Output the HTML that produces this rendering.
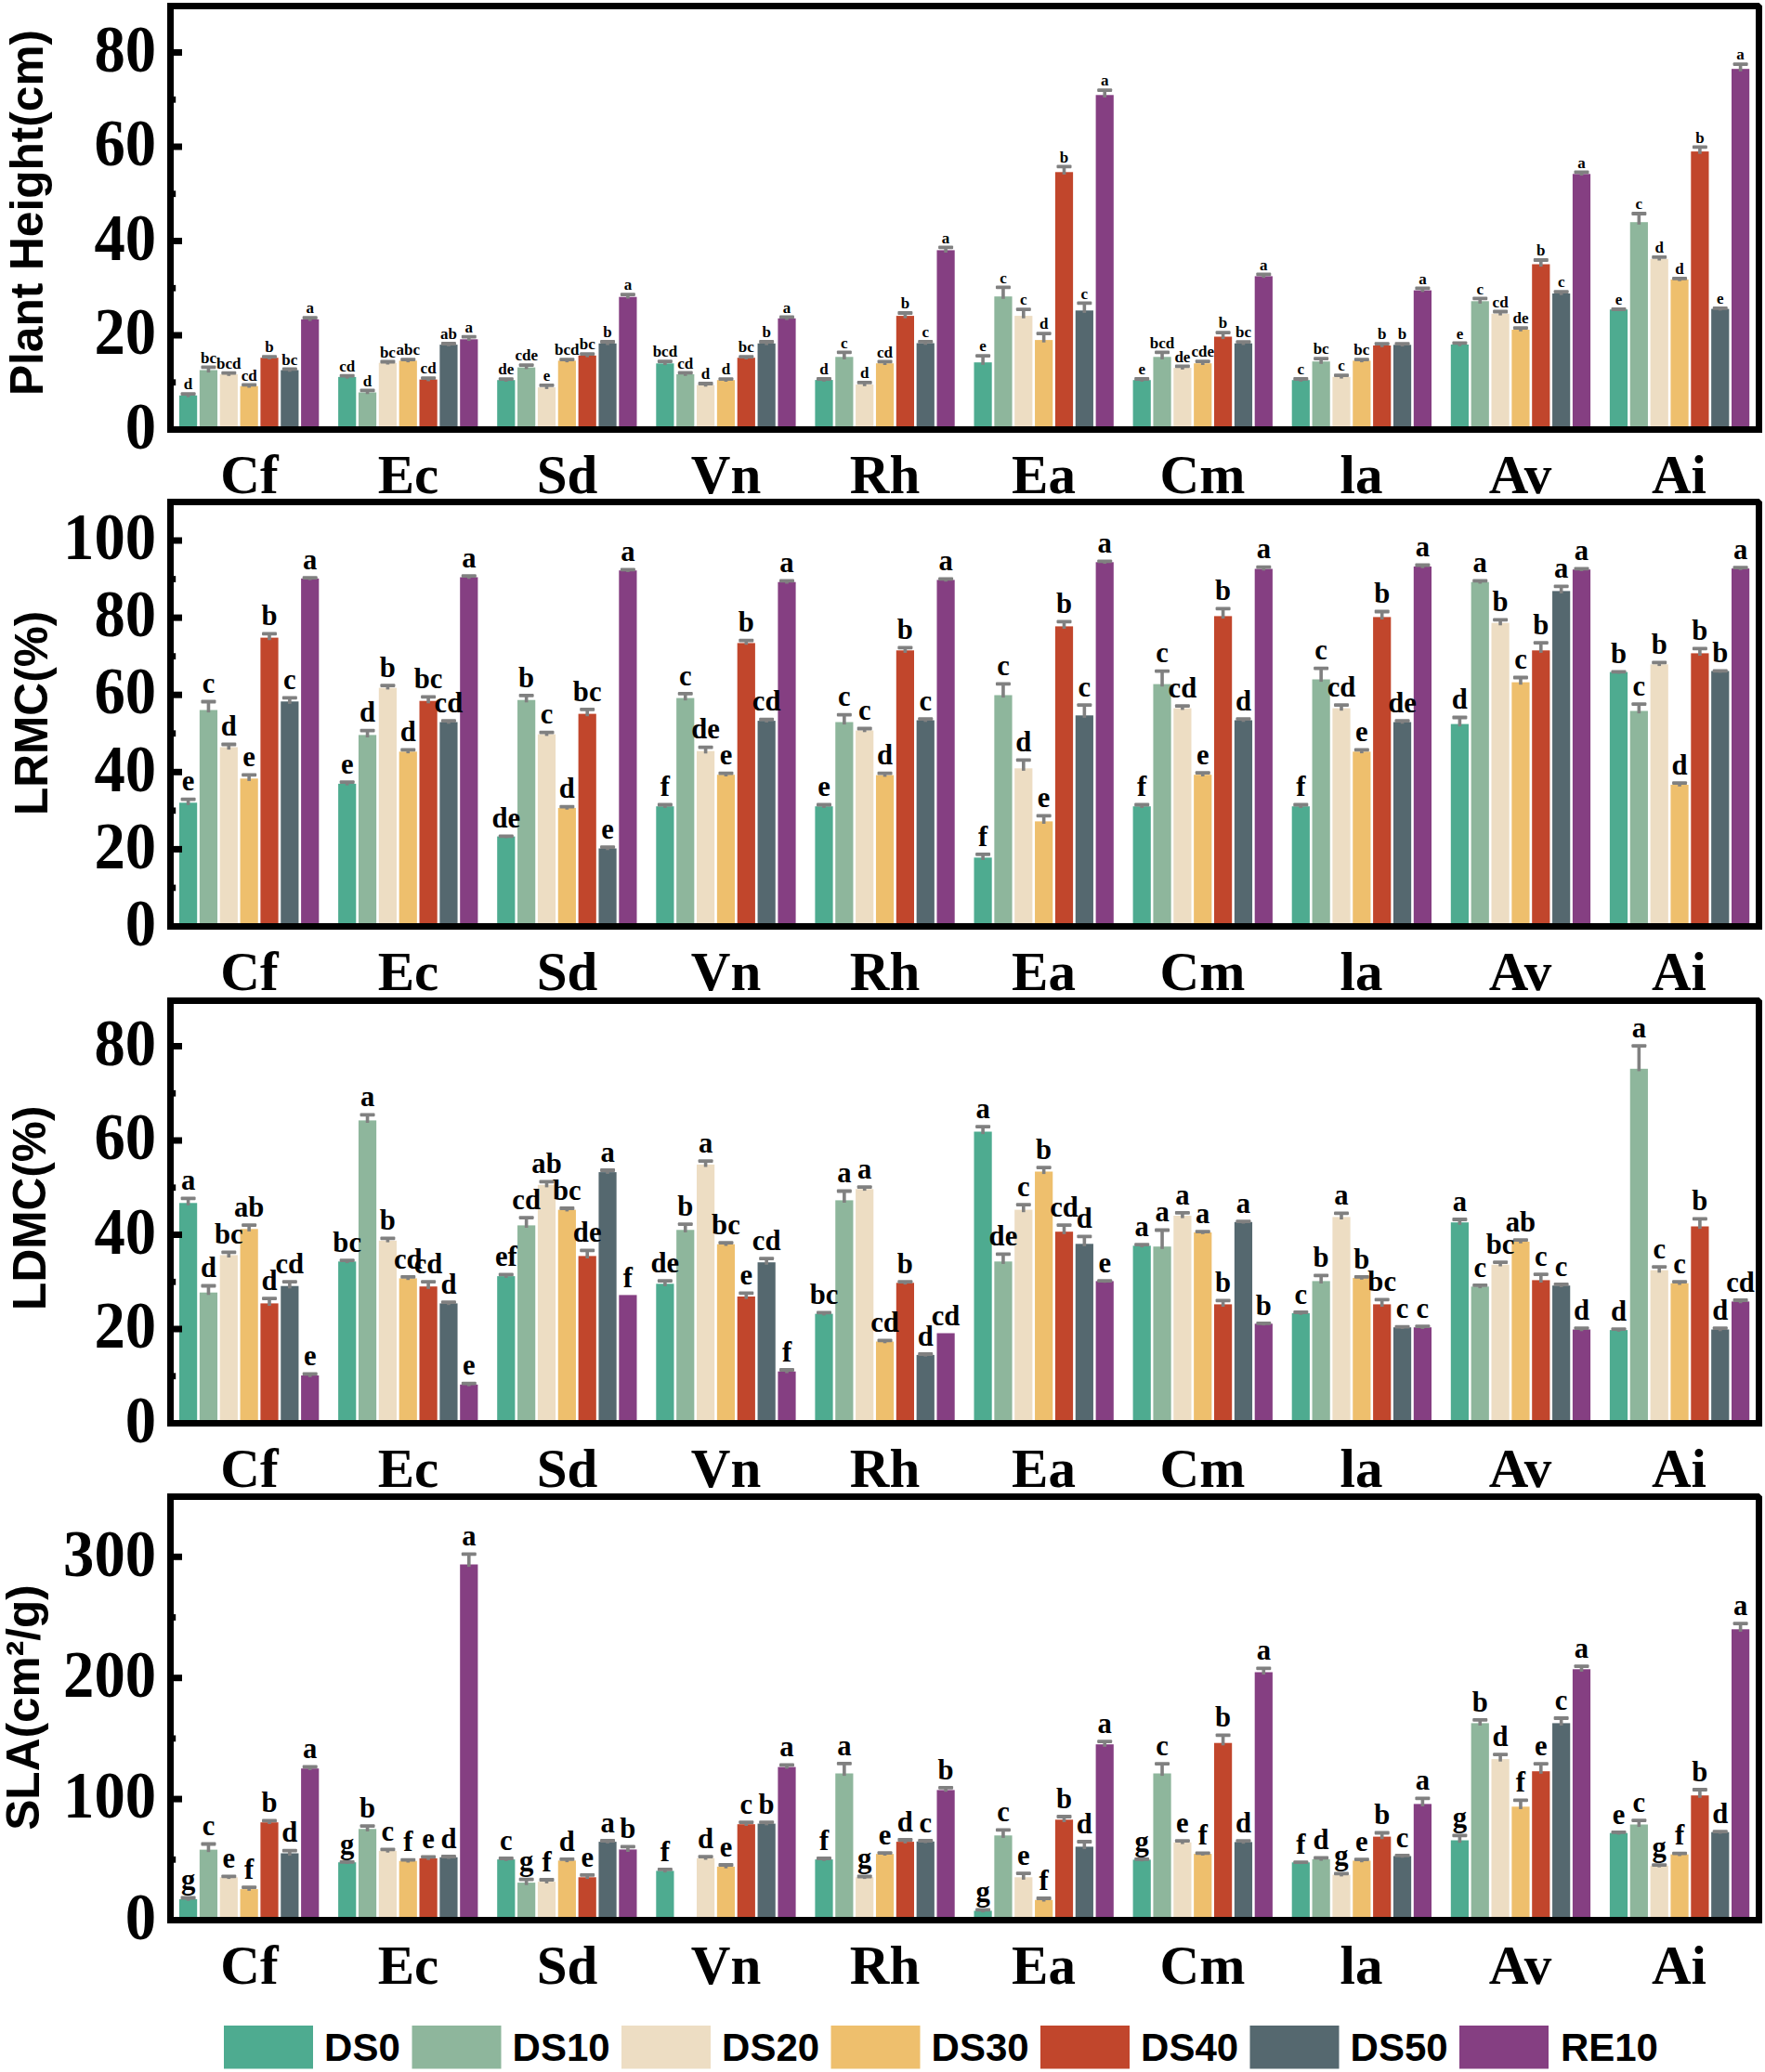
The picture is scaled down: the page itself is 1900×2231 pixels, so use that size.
<!DOCTYPE html>
<html lang="en"><head><meta charset="utf-8"><title>Plant traits under drought stress</title>
<style>html,body{margin:0;padding:0;background:#fff}body{width:1900px;height:2231px;overflow:hidden}svg{display:block}</style>
</head><body>
<svg width="1900" height="2231" viewBox="0 0 1900 2231">
<rect width="1900" height="2231" fill="#fff"/>
<g shape-rendering="auto"><rect x="193" y="425.8" width="19.2" height="36.7" fill="#4EAB90"/><rect x="214.85" y="398.5" width="19.2" height="64" fill="#8EB69C"/><rect x="236.7" y="403" width="19.2" height="59.5" fill="#EDDDC3"/><rect x="258.55" y="415.7" width="19.2" height="46.8" fill="#EEBF6D"/><rect x="280.4" y="385.2" width="19.2" height="77.3" fill="#C1462C"/><rect x="302.25" y="398.5" width="19.2" height="64" fill="#55686F"/><rect x="324.1" y="343.8" width="19.2" height="118.7" fill="#853F82"/><rect x="364.1" y="405.9" width="19.2" height="56.6" fill="#4EAB90"/><rect x="385.95" y="422.5" width="19.2" height="40" fill="#8EB69C"/><rect x="407.8" y="390.7" width="19.2" height="71.8" fill="#EDDDC3"/><rect x="429.65" y="388.3" width="19.2" height="74.2" fill="#EEBF6D"/><rect x="451.5" y="408.6" width="19.2" height="53.9" fill="#C1462C"/><rect x="473.35" y="371.1" width="19.2" height="91.4" fill="#55686F"/><rect x="495.2" y="365.3" width="19.2" height="97.2" fill="#853F82"/><rect x="535.2" y="409.2" width="19.2" height="53.3" fill="#4EAB90"/><rect x="557.05" y="395.6" width="19.2" height="66.9" fill="#8EB69C"/><rect x="578.9" y="417.1" width="19.2" height="45.4" fill="#EDDDC3"/><rect x="600.75" y="388.3" width="19.2" height="74.2" fill="#EEBF6D"/><rect x="622.6" y="382.8" width="19.2" height="79.7" fill="#C1462C"/><rect x="644.45" y="369.8" width="19.2" height="92.7" fill="#55686F"/><rect x="666.3" y="319.7" width="19.2" height="142.8" fill="#853F82"/><rect x="706.3" y="391.3" width="19.2" height="71.2" fill="#4EAB90"/><rect x="728.15" y="403" width="19.2" height="59.5" fill="#8EB69C"/><rect x="750" y="414.5" width="19.2" height="48" fill="#EDDDC3"/><rect x="771.85" y="409.2" width="19.2" height="53.3" fill="#EEBF6D"/><rect x="793.7" y="385.2" width="19.2" height="77.3" fill="#C1462C"/><rect x="815.55" y="369.8" width="19.2" height="92.7" fill="#55686F"/><rect x="837.4" y="342.8" width="19.2" height="119.7" fill="#853F82"/><rect x="877.4" y="409.1" width="19.2" height="53.4" fill="#4EAB90"/><rect x="899.25" y="384.3" width="19.2" height="78.2" fill="#8EB69C"/><rect x="921.1" y="414" width="19.2" height="48.5" fill="#EDDDC3"/><rect x="942.95" y="391.2" width="19.2" height="71.3" fill="#EEBF6D"/><rect x="964.8" y="340.1" width="19.2" height="122.4" fill="#C1462C"/><rect x="986.65" y="369.5" width="19.2" height="93" fill="#55686F"/><rect x="1008.5" y="269.4" width="19.2" height="193.1" fill="#853F82"/><rect x="1048.5" y="390.2" width="19.2" height="72.3" fill="#4EAB90"/><rect x="1070.35" y="319.2" width="19.2" height="143.3" fill="#8EB69C"/><rect x="1092.2" y="340.1" width="19.2" height="122.4" fill="#EDDDC3"/><rect x="1114.05" y="366.1" width="19.2" height="96.4" fill="#EEBF6D"/><rect x="1135.9" y="185.3" width="19.2" height="277.2" fill="#C1462C"/><rect x="1157.75" y="334.3" width="19.2" height="128.2" fill="#55686F"/><rect x="1179.6" y="102.3" width="19.2" height="360.2" fill="#853F82"/><rect x="1219.6" y="409.2" width="19.2" height="53.3" fill="#4EAB90"/><rect x="1241.45" y="384.3" width="19.2" height="78.2" fill="#8EB69C"/><rect x="1263.3" y="396.1" width="19.2" height="66.4" fill="#EDDDC3"/><rect x="1285.15" y="391.2" width="19.2" height="71.3" fill="#EEBF6D"/><rect x="1307" y="362.5" width="19.2" height="100" fill="#C1462C"/><rect x="1328.85" y="369.7" width="19.2" height="92.8" fill="#55686F"/><rect x="1350.7" y="297.4" width="19.2" height="165.1" fill="#853F82"/><rect x="1390.7" y="409.2" width="19.2" height="53.3" fill="#4EAB90"/><rect x="1412.55" y="389.2" width="19.2" height="73.3" fill="#8EB69C"/><rect x="1434.4" y="405.8" width="19.2" height="56.7" fill="#EDDDC3"/><rect x="1456.25" y="388.3" width="19.2" height="74.2" fill="#EEBF6D"/><rect x="1478.1" y="372" width="19.2" height="90.5" fill="#C1462C"/><rect x="1499.95" y="371.3" width="19.2" height="91.2" fill="#55686F"/><rect x="1521.8" y="312.6" width="19.2" height="149.9" fill="#853F82"/><rect x="1561.8" y="371" width="19.2" height="91.5" fill="#4EAB90"/><rect x="1583.65" y="324.3" width="19.2" height="138.2" fill="#8EB69C"/><rect x="1605.5" y="337.8" width="19.2" height="124.7" fill="#EDDDC3"/><rect x="1627.35" y="355" width="19.2" height="107.5" fill="#EEBF6D"/><rect x="1649.2" y="284.5" width="19.2" height="178" fill="#C1462C"/><rect x="1671.05" y="316" width="19.2" height="146.5" fill="#55686F"/><rect x="1692.9" y="187.3" width="19.2" height="275.2" fill="#853F82"/><rect x="1732.9" y="333.2" width="19.2" height="129.3" fill="#4EAB90"/><rect x="1754.75" y="239.2" width="19.2" height="223.3" fill="#8EB69C"/><rect x="1776.6" y="278.7" width="19.2" height="183.8" fill="#EDDDC3"/><rect x="1798.45" y="300.9" width="19.2" height="161.6" fill="#EEBF6D"/><rect x="1820.3" y="163.1" width="19.2" height="299.4" fill="#C1462C"/><rect x="1842.15" y="332.6" width="19.2" height="129.9" fill="#55686F"/><rect x="1864" y="74.2" width="19.2" height="388.3" fill="#853F82"/></g>
<g fill="#808080"><rect x="200.8" y="423.3" width="3.6" height="4.3"/><rect x="194.6" y="422.2" width="16" height="3.8" rx="1"/><rect x="222.65" y="394.6" width="3.6" height="6.5"/><rect x="216.45" y="393.5" width="16" height="3.8" rx="1"/><rect x="244.5" y="400.8" width="3.6" height="4"/><rect x="238.3" y="399.7" width="16" height="3.8" rx="1"/><rect x="266.35" y="413.5" width="3.6" height="4"/><rect x="260.15" y="412.4" width="16" height="3.8" rx="1"/><rect x="288.2" y="383.3" width="3.6" height="3.7"/><rect x="282" y="382.2" width="16" height="3.8" rx="1"/><rect x="310.05" y="396.5" width="3.6" height="3.8"/><rect x="303.85" y="395.4" width="16" height="3.8" rx="1"/><rect x="331.9" y="341.4" width="3.6" height="4.2"/><rect x="325.7" y="340.3" width="16" height="3.8" rx="1"/><rect x="371.9" y="403.8" width="3.6" height="3.9"/><rect x="365.7" y="402.7" width="16" height="3.8" rx="1"/><rect x="393.75" y="419.6" width="3.6" height="4.7"/><rect x="387.55" y="418.5" width="16" height="3.8" rx="1"/><rect x="415.6" y="388.7" width="3.6" height="3.8"/><rect x="409.4" y="387.6" width="16" height="3.8" rx="1"/><rect x="437.45" y="386.4" width="3.6" height="3.7"/><rect x="431.25" y="385.3" width="16" height="3.8" rx="1"/><rect x="459.3" y="406.3" width="3.6" height="4.1"/><rect x="453.1" y="405.2" width="16" height="3.8" rx="1"/><rect x="481.15" y="369.2" width="3.6" height="3.7"/><rect x="474.95" y="368.1" width="16" height="3.8" rx="1"/><rect x="503" y="361.8" width="3.6" height="5.3"/><rect x="496.8" y="360.7" width="16" height="3.8" rx="1"/><rect x="543" y="407.3" width="3.6" height="3.7"/><rect x="536.8" y="406.2" width="16" height="3.8" rx="1"/><rect x="564.85" y="392.3" width="3.6" height="5.1"/><rect x="558.65" y="391.2" width="16" height="3.8" rx="1"/><rect x="586.7" y="414.1" width="3.6" height="4.8"/><rect x="580.5" y="413" width="16" height="3.8" rx="1"/><rect x="608.55" y="386.4" width="3.6" height="3.7"/><rect x="602.35" y="385.3" width="16" height="3.8" rx="1"/><rect x="630.4" y="380.3" width="3.6" height="4.3"/><rect x="624.2" y="379.2" width="16" height="3.8" rx="1"/><rect x="652.25" y="367.2" width="3.6" height="4.4"/><rect x="646.05" y="366.1" width="16" height="3.8" rx="1"/><rect x="674.1" y="316.4" width="3.6" height="5.1"/><rect x="667.9" y="315.3" width="16" height="3.8" rx="1"/><rect x="714.1" y="388.3" width="3.6" height="4.8"/><rect x="707.9" y="387.2" width="16" height="3.8" rx="1"/><rect x="735.95" y="400.5" width="3.6" height="4.3"/><rect x="729.75" y="399.4" width="16" height="3.8" rx="1"/><rect x="757.8" y="412.2" width="3.6" height="4.1"/><rect x="751.6" y="411.1" width="16" height="3.8" rx="1"/><rect x="779.65" y="407.3" width="3.6" height="3.7"/><rect x="773.45" y="406.2" width="16" height="3.8" rx="1"/><rect x="801.5" y="383.3" width="3.6" height="3.7"/><rect x="795.3" y="382.2" width="16" height="3.8" rx="1"/><rect x="823.35" y="367.2" width="3.6" height="4.4"/><rect x="817.15" y="366.1" width="16" height="3.8" rx="1"/><rect x="845.2" y="340.5" width="3.6" height="4.1"/><rect x="839" y="339.4" width="16" height="3.8" rx="1"/><rect x="885.2" y="407.2" width="3.6" height="3.7"/><rect x="879" y="406.1" width="16" height="3.8" rx="1"/><rect x="907.05" y="378.5" width="3.6" height="8.4"/><rect x="900.85" y="377.4" width="16" height="3.8" rx="1"/><rect x="928.9" y="411.1" width="3.6" height="4.7"/><rect x="922.7" y="410" width="16" height="3.8" rx="1"/><rect x="950.75" y="388.6" width="3.6" height="4.4"/><rect x="944.55" y="387.5" width="16" height="3.8" rx="1"/><rect x="972.6" y="336.2" width="3.6" height="6.5"/><rect x="966.4" y="335.1" width="16" height="3.8" rx="1"/><rect x="994.45" y="367.1" width="3.6" height="4.2"/><rect x="988.25" y="366" width="16" height="3.8" rx="1"/><rect x="1016.3" y="265.5" width="3.6" height="6.5"/><rect x="1010.1" y="264.4" width="16" height="3.8" rx="1"/><rect x="1056.3" y="382.4" width="3.6" height="10.4"/><rect x="1050.1" y="381.3" width="16" height="3.8" rx="1"/><rect x="1078.15" y="308.5" width="3.6" height="13.3"/><rect x="1071.95" y="307.4" width="16" height="3.8" rx="1"/><rect x="1100" y="332.3" width="3.6" height="10.4"/><rect x="1093.8" y="331.2" width="16" height="3.8" rx="1"/><rect x="1121.85" y="358.3" width="3.6" height="10.4"/><rect x="1115.65" y="357.2" width="16" height="3.8" rx="1"/><rect x="1143.7" y="178.5" width="3.6" height="9.4"/><rect x="1137.5" y="177.4" width="16" height="3.8" rx="1"/><rect x="1165.55" y="325.5" width="3.6" height="11.4"/><rect x="1159.35" y="324.4" width="16" height="3.8" rx="1"/><rect x="1187.4" y="96.4" width="3.6" height="8.5"/><rect x="1181.2" y="95.3" width="16" height="3.8" rx="1"/><rect x="1227.4" y="407.2" width="3.6" height="3.8"/><rect x="1221.2" y="406.1" width="16" height="3.8" rx="1"/><rect x="1249.25" y="378.5" width="3.6" height="8.4"/><rect x="1243.05" y="377.4" width="16" height="3.8" rx="1"/><rect x="1271.1" y="393.6" width="3.6" height="4.3"/><rect x="1264.9" y="392.5" width="16" height="3.8" rx="1"/><rect x="1292.95" y="388.3" width="3.6" height="4.7"/><rect x="1286.75" y="387.2" width="16" height="3.8" rx="1"/><rect x="1314.8" y="357.4" width="3.6" height="7.7"/><rect x="1308.6" y="356.3" width="16" height="3.8" rx="1"/><rect x="1336.65" y="367.4" width="3.6" height="4.1"/><rect x="1330.45" y="366.3" width="16" height="3.8" rx="1"/><rect x="1358.5" y="294.5" width="3.6" height="4.7"/><rect x="1352.3" y="293.4" width="16" height="3.8" rx="1"/><rect x="1398.5" y="407.2" width="3.6" height="3.8"/><rect x="1392.3" y="406.1" width="16" height="3.8" rx="1"/><rect x="1420.35" y="385.3" width="3.6" height="6.5"/><rect x="1414.15" y="384.2" width="16" height="3.8" rx="1"/><rect x="1442.2" y="403.3" width="3.6" height="4.3"/><rect x="1436" y="402.2" width="16" height="3.8" rx="1"/><rect x="1464.05" y="386.3" width="3.6" height="3.8"/><rect x="1457.85" y="385.2" width="16" height="3.8" rx="1"/><rect x="1485.9" y="369.3" width="3.6" height="4.5"/><rect x="1479.7" y="368.2" width="16" height="3.8" rx="1"/><rect x="1507.75" y="369.3" width="3.6" height="3.8"/><rect x="1501.55" y="368.2" width="16" height="3.8" rx="1"/><rect x="1529.6" y="309.5" width="3.6" height="4.9"/><rect x="1523.4" y="308.4" width="16" height="3.8" rx="1"/><rect x="1569.6" y="368.5" width="3.6" height="4.3"/><rect x="1563.4" y="367.4" width="16" height="3.8" rx="1"/><rect x="1591.45" y="320.5" width="3.6" height="6.4"/><rect x="1585.25" y="319.4" width="16" height="3.8" rx="1"/><rect x="1613.3" y="334.7" width="3.6" height="4.9"/><rect x="1607.1" y="333.6" width="16" height="3.8" rx="1"/><rect x="1635.15" y="352.3" width="3.6" height="4.5"/><rect x="1628.95" y="351.2" width="16" height="3.8" rx="1"/><rect x="1657" y="279.2" width="3.6" height="7.9"/><rect x="1650.8" y="278.1" width="16" height="3.8" rx="1"/><rect x="1678.85" y="313.3" width="3.6" height="4.5"/><rect x="1672.65" y="312.2" width="16" height="3.8" rx="1"/><rect x="1700.7" y="184.6" width="3.6" height="4.5"/><rect x="1694.5" y="183.5" width="16" height="3.8" rx="1"/><rect x="1740.7" y="332.2" width="3.6" height="2.8"/><rect x="1734.5" y="331.1" width="16" height="3.8" rx="1"/><rect x="1762.55" y="229.2" width="3.6" height="12.6"/><rect x="1756.35" y="228.1" width="16" height="3.8" rx="1"/><rect x="1784.4" y="276.1" width="3.6" height="4.4"/><rect x="1778.2" y="275" width="16" height="3.8" rx="1"/><rect x="1806.25" y="299" width="3.6" height="3.7"/><rect x="1800.05" y="297.9" width="16" height="3.8" rx="1"/><rect x="1828.1" y="157.6" width="3.6" height="8.1"/><rect x="1821.9" y="156.5" width="16" height="3.8" rx="1"/><rect x="1849.95" y="331.1" width="3.6" height="3.3"/><rect x="1843.75" y="330" width="16" height="3.8" rx="1"/><rect x="1871.8" y="68.3" width="3.6" height="8.5"/><rect x="1865.6" y="67.2" width="16" height="3.8" rx="1"/></g>
<g font-family='"Liberation Serif","Times New Roman",serif' font-weight="bold" font-size="17" text-anchor="middle" fill="#000"><text x="202.6" y="419.3">d</text><text x="224.45" y="390.6">bc</text><text x="246.3" y="396.8">bcd</text><text x="268.15" y="409.5">cd</text><text x="290" y="379.3">b</text><text x="311.85" y="392.5">bc</text><text x="333.7" y="337.4">a</text><text x="373.7" y="399.8">cd</text><text x="395.55" y="415.6">d</text><text x="417.4" y="384.7">bc</text><text x="439.25" y="382.4">abc</text><text x="461.1" y="402.3">cd</text><text x="482.95" y="365.2">ab</text><text x="504.8" y="357.8">a</text><text x="544.8" y="403.3">de</text><text x="566.65" y="388.3">cde</text><text x="588.5" y="410.1">e</text><text x="610.35" y="382.4">bcd</text><text x="632.2" y="376.3">bc</text><text x="654.05" y="363.2">b</text><text x="675.9" y="312.4">a</text><text x="715.9" y="384.3">bcd</text><text x="737.75" y="396.5">cd</text><text x="759.6" y="408.2">d</text><text x="781.45" y="403.3">d</text><text x="803.3" y="379.3">bc</text><text x="825.15" y="363.2">b</text><text x="847" y="336.5">a</text><text x="887" y="403.2">d</text><text x="908.85" y="374.5">c</text><text x="930.7" y="407.1">d</text><text x="952.55" y="384.6">cd</text><text x="974.4" y="332.2">b</text><text x="996.25" y="363.1">c</text><text x="1018.1" y="261.5">a</text><text x="1058.1" y="378.4">e</text><text x="1079.95" y="304.5">c</text><text x="1101.8" y="328.3">c</text><text x="1123.65" y="354.3">d</text><text x="1145.5" y="174.5">b</text><text x="1167.35" y="321.5">c</text><text x="1189.2" y="92.4">a</text><text x="1229.2" y="403.2">e</text><text x="1251.05" y="374.5">bcd</text><text x="1272.9" y="389.6">de</text><text x="1294.75" y="384.3">cde</text><text x="1316.6" y="353.4">b</text><text x="1338.45" y="363.4">bc</text><text x="1360.3" y="290.5">a</text><text x="1400.3" y="403.2">c</text><text x="1422.15" y="381.3">bc</text><text x="1444" y="399.3">c</text><text x="1465.85" y="382.3">bc</text><text x="1487.7" y="365.3">b</text><text x="1509.55" y="365.3">b</text><text x="1531.4" y="305.5">a</text><text x="1571.4" y="364.5">e</text><text x="1593.25" y="316.5">c</text><text x="1615.1" y="330.7">cd</text><text x="1636.95" y="348.3">de</text><text x="1658.8" y="275.2">b</text><text x="1680.65" y="309.3">c</text><text x="1702.5" y="180.6">a</text><text x="1742.5" y="328.2">e</text><text x="1764.35" y="225.2">c</text><text x="1786.2" y="272.1">d</text><text x="1808.05" y="295">d</text><text x="1829.9" y="153.6">b</text><text x="1851.75" y="327.1">e</text><text x="1873.6" y="64.3">a</text></g>
<rect x="183.5" y="6.5" width="1710" height="456" fill="none" stroke="#000" stroke-width="7"/>
<polygon points="1893.6,2.9 1897.2,2.9 1897.2,6.5" fill="#fff"/>
<g fill="#000"><rect x="186" y="357.5" width="10" height="7"/><rect x="186" y="256" width="10" height="7"/><rect x="186" y="154.5" width="10" height="7"/><rect x="186" y="53" width="10" height="7"/><rect x="186" y="408.35" width="3.2" height="6.8"/><rect x="186" y="306.85" width="3.2" height="6.8"/><rect x="186" y="205.35" width="3.2" height="6.8"/><rect x="186" y="103.85" width="3.2" height="6.8"/></g>
<g font-family='"Liberation Serif","Times New Roman",serif' font-weight="bold" font-size="66.67" text-anchor="end" fill="#000"><text transform="translate(168.1,482.7) scale(1,1.068)">0</text><text transform="translate(168.1,381.2) scale(1,1.068)">20</text><text transform="translate(168.1,279.7) scale(1,1.068)">40</text><text transform="translate(168.1,178.2) scale(1,1.068)">60</text><text transform="translate(168.1,76.7) scale(1,1.068)">80</text></g>
<g font-family='"Liberation Serif","Times New Roman",serif' font-weight="bold" font-size="59" text-anchor="middle" fill="#000"><text x="268.5" y="530.8">Cf</text><text x="439.5" y="530.8">Ec</text><text x="610.5" y="530.8">Sd</text><text x="781.5" y="530.8">Vn</text><text x="952.5" y="530.8">Rh</text><text x="1123.5" y="530.8">Ea</text><text x="1294.5" y="530.8">Cm</text><text x="1465.5" y="530.8">la</text><text x="1636.5" y="530.8">Av</text><text x="1807.5" y="530.8">Ai</text></g>
<text transform="translate(45.6,229) rotate(-90)" font-family='"Liberation Sans",Arial,sans-serif' font-weight="bold" font-size="49.6" text-anchor="middle" fill="#000">Plant Height(cm)</text>
<g shape-rendering="auto"><rect x="193" y="864.3" width="19.2" height="133.2" fill="#4EAB90"/><rect x="214.85" y="764.5" width="19.2" height="233" fill="#8EB69C"/><rect x="236.7" y="804.5" width="19.2" height="193" fill="#EDDDC3"/><rect x="258.55" y="838.3" width="19.2" height="159.2" fill="#EEBF6D"/><rect x="280.4" y="686.6" width="19.2" height="310.9" fill="#C1462C"/><rect x="302.25" y="755.3" width="19.2" height="242.2" fill="#55686F"/><rect x="324.1" y="622.9" width="19.2" height="374.6" fill="#853F82"/><rect x="364.1" y="843.9" width="19.2" height="153.6" fill="#4EAB90"/><rect x="385.95" y="791.4" width="19.2" height="206.1" fill="#8EB69C"/><rect x="407.8" y="740.6" width="19.2" height="256.9" fill="#EDDDC3"/><rect x="429.65" y="809.3" width="19.2" height="188.2" fill="#EEBF6D"/><rect x="451.5" y="754.7" width="19.2" height="242.8" fill="#C1462C"/><rect x="473.35" y="777.5" width="19.2" height="220" fill="#55686F"/><rect x="495.2" y="621.5" width="19.2" height="376" fill="#853F82"/><rect x="535.2" y="900.6" width="19.2" height="96.9" fill="#4EAB90"/><rect x="557.05" y="753.7" width="19.2" height="243.8" fill="#8EB69C"/><rect x="578.9" y="790.6" width="19.2" height="206.9" fill="#EDDDC3"/><rect x="600.75" y="869.9" width="19.2" height="127.6" fill="#EEBF6D"/><rect x="622.6" y="768.6" width="19.2" height="228.9" fill="#C1462C"/><rect x="644.45" y="913.5" width="19.2" height="84" fill="#55686F"/><rect x="666.3" y="614.2" width="19.2" height="383.3" fill="#853F82"/><rect x="706.3" y="868.2" width="19.2" height="129.3" fill="#4EAB90"/><rect x="728.15" y="751.6" width="19.2" height="245.9" fill="#8EB69C"/><rect x="750" y="808.7" width="19.2" height="188.8" fill="#EDDDC3"/><rect x="771.85" y="834.2" width="19.2" height="163.3" fill="#EEBF6D"/><rect x="793.7" y="692.4" width="19.2" height="305.1" fill="#C1462C"/><rect x="815.55" y="776.1" width="19.2" height="221.4" fill="#55686F"/><rect x="837.4" y="626.7" width="19.2" height="370.8" fill="#853F82"/><rect x="877.4" y="868.2" width="19.2" height="129.3" fill="#4EAB90"/><rect x="899.25" y="777.5" width="19.2" height="220" fill="#8EB69C"/><rect x="921.1" y="786.5" width="19.2" height="211" fill="#EDDDC3"/><rect x="942.95" y="834.6" width="19.2" height="162.9" fill="#EEBF6D"/><rect x="964.8" y="700.3" width="19.2" height="297.2" fill="#C1462C"/><rect x="986.65" y="775.5" width="19.2" height="222" fill="#55686F"/><rect x="1008.5" y="624.4" width="19.2" height="373.1" fill="#853F82"/><rect x="1048.5" y="923.4" width="19.2" height="74.1" fill="#4EAB90"/><rect x="1070.35" y="748.5" width="19.2" height="249" fill="#8EB69C"/><rect x="1092.2" y="827.3" width="19.2" height="170.2" fill="#EDDDC3"/><rect x="1114.05" y="884.4" width="19.2" height="113.1" fill="#EEBF6D"/><rect x="1135.9" y="674.4" width="19.2" height="323.1" fill="#C1462C"/><rect x="1157.75" y="770.3" width="19.2" height="227.2" fill="#55686F"/><rect x="1179.6" y="605.3" width="19.2" height="392.2" fill="#853F82"/><rect x="1219.6" y="868.2" width="19.2" height="129.3" fill="#4EAB90"/><rect x="1241.45" y="736.6" width="19.2" height="260.9" fill="#8EB69C"/><rect x="1263.3" y="762.6" width="19.2" height="234.9" fill="#EDDDC3"/><rect x="1285.15" y="834.2" width="19.2" height="163.3" fill="#EEBF6D"/><rect x="1307" y="663.4" width="19.2" height="334.1" fill="#C1462C"/><rect x="1328.85" y="775.5" width="19.2" height="222" fill="#55686F"/><rect x="1350.7" y="612.5" width="19.2" height="385" fill="#853F82"/><rect x="1390.7" y="868.2" width="19.2" height="129.3" fill="#4EAB90"/><rect x="1412.55" y="731.5" width="19.2" height="266" fill="#8EB69C"/><rect x="1434.4" y="762.6" width="19.2" height="234.9" fill="#EDDDC3"/><rect x="1456.25" y="809.3" width="19.2" height="188.2" fill="#EEBF6D"/><rect x="1478.1" y="664.4" width="19.2" height="333.1" fill="#C1462C"/><rect x="1499.95" y="777.5" width="19.2" height="220" fill="#55686F"/><rect x="1521.8" y="610" width="19.2" height="387.5" fill="#853F82"/><rect x="1561.8" y="779.6" width="19.2" height="217.9" fill="#4EAB90"/><rect x="1583.65" y="626.7" width="19.2" height="370.8" fill="#8EB69C"/><rect x="1605.5" y="670.7" width="19.2" height="326.8" fill="#EDDDC3"/><rect x="1627.35" y="734.6" width="19.2" height="262.9" fill="#EEBF6D"/><rect x="1649.2" y="700.3" width="19.2" height="297.2" fill="#C1462C"/><rect x="1671.05" y="636.4" width="19.2" height="361.1" fill="#55686F"/><rect x="1692.9" y="613.2" width="19.2" height="384.3" fill="#853F82"/><rect x="1732.9" y="723.6" width="19.2" height="273.9" fill="#4EAB90"/><rect x="1754.75" y="765.5" width="19.2" height="232" fill="#8EB69C"/><rect x="1776.6" y="715.3" width="19.2" height="282.2" fill="#EDDDC3"/><rect x="1798.45" y="845" width="19.2" height="152.5" fill="#EEBF6D"/><rect x="1820.3" y="703.4" width="19.2" height="294.1" fill="#C1462C"/><rect x="1842.15" y="722.5" width="19.2" height="275" fill="#55686F"/><rect x="1864" y="612.1" width="19.2" height="385.4" fill="#853F82"/></g>
<g fill="#808080"><rect x="200.8" y="859.9" width="3.6" height="7"/><rect x="194.6" y="858.8" width="16" height="3.8" rx="1"/><rect x="222.65" y="754.7" width="3.6" height="12.4"/><rect x="216.45" y="753.6" width="16" height="3.8" rx="1"/><rect x="244.5" y="800.7" width="3.6" height="6.4"/><rect x="238.3" y="799.6" width="16" height="3.8" rx="1"/><rect x="266.35" y="833.5" width="3.6" height="7.4"/><rect x="260.15" y="832.4" width="16" height="3.8" rx="1"/><rect x="288.2" y="681.6" width="3.6" height="7.6"/><rect x="282" y="680.5" width="16" height="3.8" rx="1"/><rect x="310.05" y="750.5" width="3.6" height="7.4"/><rect x="303.85" y="749.4" width="16" height="3.8" rx="1"/><rect x="331.9" y="621.4" width="3.6" height="3.3"/><rect x="325.7" y="620.3" width="16" height="3.8" rx="1"/><rect x="371.9" y="841.4" width="3.6" height="4.3"/><rect x="365.7" y="840.3" width="16" height="3.8" rx="1"/><rect x="393.75" y="785.8" width="3.6" height="8.2"/><rect x="387.55" y="784.7" width="16" height="3.8" rx="1"/><rect x="415.6" y="737.4" width="3.6" height="5"/><rect x="409.4" y="736.3" width="16" height="3.8" rx="1"/><rect x="437.45" y="806.5" width="3.6" height="4.6"/><rect x="431.25" y="805.4" width="16" height="3.8" rx="1"/><rect x="459.3" y="749.5" width="3.6" height="7.8"/><rect x="453.1" y="748.4" width="16" height="3.8" rx="1"/><rect x="481.15" y="775.4" width="3.6" height="3.9"/><rect x="474.95" y="774.3" width="16" height="3.8" rx="1"/><rect x="503" y="619.4" width="3.6" height="3.9"/><rect x="496.8" y="618.3" width="16" height="3.8" rx="1"/><rect x="543" y="899.5" width="3.6" height="2.9"/><rect x="536.8" y="898.4" width="16" height="3.8" rx="1"/><rect x="564.85" y="748" width="3.6" height="8.3"/><rect x="558.65" y="746.9" width="16" height="3.8" rx="1"/><rect x="586.7" y="787.9" width="3.6" height="4.5"/><rect x="580.5" y="786.8" width="16" height="3.8" rx="1"/><rect x="608.55" y="867.8" width="3.6" height="3.9"/><rect x="602.35" y="866.7" width="16" height="3.8" rx="1"/><rect x="630.4" y="763" width="3.6" height="8.2"/><rect x="624.2" y="761.9" width="16" height="3.8" rx="1"/><rect x="652.25" y="911.4" width="3.6" height="3.9"/><rect x="646.05" y="910.3" width="16" height="3.8" rx="1"/><rect x="674.1" y="612.5" width="3.6" height="3.5"/><rect x="667.9" y="611.4" width="16" height="3.8" rx="1"/><rect x="714.1" y="865.7" width="3.6" height="4.3"/><rect x="707.9" y="864.6" width="16" height="3.8" rx="1"/><rect x="735.95" y="746" width="3.6" height="8.2"/><rect x="729.75" y="744.9" width="16" height="3.8" rx="1"/><rect x="757.8" y="803.9" width="3.6" height="7.4"/><rect x="751.6" y="802.8" width="16" height="3.8" rx="1"/><rect x="779.65" y="831.9" width="3.6" height="4.1"/><rect x="773.45" y="830.8" width="16" height="3.8" rx="1"/><rect x="801.5" y="688.9" width="3.6" height="5.3"/><rect x="795.3" y="687.8" width="16" height="3.8" rx="1"/><rect x="823.35" y="773.8" width="3.6" height="4.1"/><rect x="817.15" y="772.7" width="16" height="3.8" rx="1"/><rect x="845.2" y="624.5" width="3.6" height="4"/><rect x="839" y="623.4" width="16" height="3.8" rx="1"/><rect x="885.2" y="865.7" width="3.6" height="4.3"/><rect x="879" y="864.6" width="16" height="3.8" rx="1"/><rect x="907.05" y="768.8" width="3.6" height="11.3"/><rect x="900.85" y="767.7" width="16" height="3.8" rx="1"/><rect x="928.9" y="783.7" width="3.6" height="4.6"/><rect x="922.7" y="782.6" width="16" height="3.8" rx="1"/><rect x="950.75" y="831.9" width="3.6" height="4.5"/><rect x="944.55" y="830.8" width="16" height="3.8" rx="1"/><rect x="972.6" y="696.6" width="3.6" height="6.3"/><rect x="966.4" y="695.5" width="16" height="3.8" rx="1"/><rect x="994.45" y="773.3" width="3.6" height="4"/><rect x="988.25" y="772.2" width="16" height="3.8" rx="1"/><rect x="1016.3" y="622.5" width="3.6" height="3.7"/><rect x="1010.1" y="621.4" width="16" height="3.8" rx="1"/><rect x="1056.3" y="919" width="3.6" height="7"/><rect x="1050.1" y="917.9" width="16" height="3.8" rx="1"/><rect x="1078.15" y="735.6" width="3.6" height="15.5"/><rect x="1071.95" y="734.5" width="16" height="3.8" rx="1"/><rect x="1100" y="817.5" width="3.6" height="12.4"/><rect x="1093.8" y="816.4" width="16" height="3.8" rx="1"/><rect x="1121.85" y="877.5" width="3.6" height="9.5"/><rect x="1115.65" y="876.4" width="16" height="3.8" rx="1"/><rect x="1143.7" y="668.5" width="3.6" height="8.5"/><rect x="1137.5" y="667.4" width="16" height="3.8" rx="1"/><rect x="1165.55" y="758.4" width="3.6" height="14.5"/><rect x="1159.35" y="757.3" width="16" height="3.8" rx="1"/><rect x="1187.4" y="603.6" width="3.6" height="3.5"/><rect x="1181.2" y="602.5" width="16" height="3.8" rx="1"/><rect x="1227.4" y="865.7" width="3.6" height="4.3"/><rect x="1221.2" y="864.6" width="16" height="3.8" rx="1"/><rect x="1249.25" y="721.9" width="3.6" height="17.3"/><rect x="1243.05" y="720.8" width="16" height="3.8" rx="1"/><rect x="1271.1" y="759.4" width="3.6" height="5"/><rect x="1264.9" y="758.3" width="16" height="3.8" rx="1"/><rect x="1292.95" y="831.4" width="3.6" height="4.6"/><rect x="1286.75" y="830.3" width="16" height="3.8" rx="1"/><rect x="1314.8" y="654.6" width="3.6" height="11.4"/><rect x="1308.6" y="653.5" width="16" height="3.8" rx="1"/><rect x="1336.65" y="773.3" width="3.6" height="4"/><rect x="1330.45" y="772.2" width="16" height="3.8" rx="1"/><rect x="1358.5" y="609.8" width="3.6" height="4.5"/><rect x="1352.3" y="608.7" width="16" height="3.8" rx="1"/><rect x="1398.5" y="865.7" width="3.6" height="4.3"/><rect x="1392.3" y="864.6" width="16" height="3.8" rx="1"/><rect x="1420.35" y="718.8" width="3.6" height="15.3"/><rect x="1414.15" y="717.7" width="16" height="3.8" rx="1"/><rect x="1442.2" y="758.4" width="3.6" height="6.8"/><rect x="1436" y="757.3" width="16" height="3.8" rx="1"/><rect x="1464.05" y="806.5" width="3.6" height="4.6"/><rect x="1457.85" y="805.4" width="16" height="3.8" rx="1"/><rect x="1485.9" y="657.7" width="3.6" height="9.3"/><rect x="1479.7" y="656.6" width="16" height="3.8" rx="1"/><rect x="1507.75" y="775.4" width="3.6" height="3.9"/><rect x="1501.55" y="774.3" width="16" height="3.8" rx="1"/><rect x="1529.6" y="607.7" width="3.6" height="4.1"/><rect x="1523.4" y="606.6" width="16" height="3.8" rx="1"/><rect x="1569.6" y="771.7" width="3.6" height="10.5"/><rect x="1563.4" y="770.6" width="16" height="3.8" rx="1"/><rect x="1591.45" y="624.5" width="3.6" height="4"/><rect x="1585.25" y="623.4" width="16" height="3.8" rx="1"/><rect x="1613.3" y="666.5" width="3.6" height="6.8"/><rect x="1607.1" y="665.4" width="16" height="3.8" rx="1"/><rect x="1635.15" y="728.7" width="3.6" height="8.5"/><rect x="1628.95" y="727.6" width="16" height="3.8" rx="1"/><rect x="1657" y="691.4" width="3.6" height="11.5"/><rect x="1650.8" y="690.3" width="16" height="3.8" rx="1"/><rect x="1678.85" y="630.6" width="3.6" height="8.4"/><rect x="1672.65" y="629.5" width="16" height="3.8" rx="1"/><rect x="1700.7" y="611.5" width="3.6" height="3.5"/><rect x="1694.5" y="610.4" width="16" height="3.8" rx="1"/><rect x="1740.7" y="722.5" width="3.6" height="2.9"/><rect x="1734.5" y="721.4" width="16" height="3.8" rx="1"/><rect x="1762.55" y="757.4" width="3.6" height="10.7"/><rect x="1756.35" y="756.3" width="16" height="3.8" rx="1"/><rect x="1784.4" y="712.5" width="3.6" height="4.6"/><rect x="1778.2" y="711.4" width="16" height="3.8" rx="1"/><rect x="1806.25" y="842.4" width="3.6" height="4.4"/><rect x="1800.05" y="841.3" width="16" height="3.8" rx="1"/><rect x="1828.1" y="697.6" width="3.6" height="8.4"/><rect x="1821.9" y="696.5" width="16" height="3.8" rx="1"/><rect x="1849.95" y="721.5" width="3.6" height="2.8"/><rect x="1843.75" y="720.4" width="16" height="3.8" rx="1"/><rect x="1871.8" y="610.4" width="3.6" height="3.5"/><rect x="1865.6" y="609.3" width="16" height="3.8" rx="1"/></g>
<g font-family='"Liberation Serif","Times New Roman",serif' font-weight="bold" font-size="30.67" text-anchor="middle" fill="#000"><text x="202.6" y="851.4">e</text><text x="224.45" y="746.2">c</text><text x="246.3" y="792.2">d</text><text x="268.15" y="825">e</text><text x="290" y="673.1">b</text><text x="311.85" y="742">c</text><text x="333.7" y="612.9">a</text><text x="373.7" y="832.9">e</text><text x="395.55" y="777.3">d</text><text x="417.4" y="728.9">b</text><text x="439.25" y="798">d</text><text x="461.1" y="741">bc</text><text x="482.95" y="766.9">cd</text><text x="504.8" y="610.9">a</text><text x="544.8" y="891">de</text><text x="566.65" y="739.5">b</text><text x="588.5" y="779.4">c</text><text x="610.35" y="859.3">d</text><text x="632.2" y="754.5">bc</text><text x="654.05" y="902.9">e</text><text x="675.9" y="604">a</text><text x="715.9" y="857.2">f</text><text x="737.75" y="737.5">c</text><text x="759.6" y="795.4">de</text><text x="781.45" y="823.4">e</text><text x="803.3" y="680.4">b</text><text x="825.15" y="765.3">cd</text><text x="847" y="616">a</text><text x="887" y="857.2">e</text><text x="908.85" y="760.3">c</text><text x="930.7" y="775.2">c</text><text x="952.55" y="823.4">d</text><text x="974.4" y="688.1">b</text><text x="996.25" y="764.8">c</text><text x="1018.1" y="614">a</text><text x="1058.1" y="910.5">f</text><text x="1079.95" y="727.1">c</text><text x="1101.8" y="809">d</text><text x="1123.65" y="869">e</text><text x="1145.5" y="660">b</text><text x="1167.35" y="749.9">c</text><text x="1189.2" y="595.1">a</text><text x="1229.2" y="857.2">f</text><text x="1251.05" y="713.4">c</text><text x="1272.9" y="750.9">cd</text><text x="1294.75" y="822.9">e</text><text x="1316.6" y="646.1">b</text><text x="1338.45" y="764.8">d</text><text x="1360.3" y="601.3">a</text><text x="1400.3" y="857.2">f</text><text x="1422.15" y="710.3">c</text><text x="1444" y="749.9">cd</text><text x="1465.85" y="798">e</text><text x="1487.7" y="649.2">b</text><text x="1509.55" y="766.9">de</text><text x="1531.4" y="599.2">a</text><text x="1571.4" y="763.2">d</text><text x="1593.25" y="616">a</text><text x="1615.1" y="658">b</text><text x="1636.95" y="720.2">c</text><text x="1658.8" y="682.9">b</text><text x="1680.65" y="622.1">a</text><text x="1702.5" y="603">a</text><text x="1742.5" y="714">b</text><text x="1764.35" y="748.9">c</text><text x="1786.2" y="704">b</text><text x="1808.05" y="833.9">d</text><text x="1829.9" y="689.1">b</text><text x="1851.75" y="713">b</text><text x="1873.6" y="601.9">a</text></g>
<rect x="183.5" y="540.5" width="1710" height="457" fill="none" stroke="#000" stroke-width="7"/>
<polygon points="1893.6,536.9 1897.2,536.9 1897.2,540.5" fill="#fff"/>
<g fill="#000"><rect x="186" y="910.9" width="10" height="7"/><rect x="186" y="827.8" width="10" height="7"/><rect x="186" y="744.7" width="10" height="7"/><rect x="186" y="661.6" width="10" height="7"/><rect x="186" y="578.5" width="10" height="7"/><rect x="186" y="952.55" width="3.2" height="6.8"/><rect x="186" y="869.45" width="3.2" height="6.8"/><rect x="186" y="786.35" width="3.2" height="6.8"/><rect x="186" y="703.25" width="3.2" height="6.8"/><rect x="186" y="620.15" width="3.2" height="6.8"/></g>
<g font-family='"Liberation Serif","Times New Roman",serif' font-weight="bold" font-size="66.67" text-anchor="end" fill="#000"><text transform="translate(168.1,1017.7) scale(1,1.068)">0</text><text transform="translate(168.1,934.6) scale(1,1.068)">20</text><text transform="translate(168.1,851.5) scale(1,1.068)">40</text><text transform="translate(168.1,768.4) scale(1,1.068)">60</text><text transform="translate(168.1,685.3) scale(1,1.068)">80</text><text transform="translate(168.1,602.2) scale(1,1.068)">100</text></g>
<g font-family='"Liberation Serif","Times New Roman",serif' font-weight="bold" font-size="59" text-anchor="middle" fill="#000"><text x="268.5" y="1065.8">Cf</text><text x="439.5" y="1065.8">Ec</text><text x="610.5" y="1065.8">Sd</text><text x="781.5" y="1065.8">Vn</text><text x="952.5" y="1065.8">Rh</text><text x="1123.5" y="1065.8">Ea</text><text x="1294.5" y="1065.8">Cm</text><text x="1465.5" y="1065.8">la</text><text x="1636.5" y="1065.8">Av</text><text x="1807.5" y="1065.8">Ai</text></g>
<text transform="translate(50.5,767.9) rotate(-90)" font-family='"Liberation Sans",Arial,sans-serif' font-weight="bold" font-size="49.6" text-anchor="middle" fill="#000">LRMC(%)</text>
<g shape-rendering="auto"><rect x="193" y="1295.3" width="19.2" height="237.2" fill="#4EAB90"/><rect x="214.85" y="1391.7" width="19.2" height="140.8" fill="#8EB69C"/><rect x="236.7" y="1351.4" width="19.2" height="181.1" fill="#EDDDC3"/><rect x="258.55" y="1323.3" width="19.2" height="209.2" fill="#EEBF6D"/><rect x="280.4" y="1403.4" width="19.2" height="129.1" fill="#C1462C"/><rect x="302.25" y="1384.7" width="19.2" height="147.8" fill="#55686F"/><rect x="324.1" y="1481" width="19.2" height="51.5" fill="#853F82"/><rect x="364.1" y="1358.3" width="19.2" height="174.2" fill="#4EAB90"/><rect x="385.95" y="1206.4" width="19.2" height="326.1" fill="#8EB69C"/><rect x="407.8" y="1335.8" width="19.2" height="196.7" fill="#EDDDC3"/><rect x="429.65" y="1376.4" width="19.2" height="156.1" fill="#EEBF6D"/><rect x="451.5" y="1385.2" width="19.2" height="147.3" fill="#C1462C"/><rect x="473.35" y="1403.4" width="19.2" height="129.1" fill="#55686F"/><rect x="495.2" y="1490.8" width="19.2" height="41.7" fill="#853F82"/><rect x="535.2" y="1374.1" width="19.2" height="158.4" fill="#4EAB90"/><rect x="557.05" y="1319.4" width="19.2" height="213.1" fill="#8EB69C"/><rect x="578.9" y="1275.8" width="19.2" height="256.7" fill="#EDDDC3"/><rect x="600.75" y="1302.6" width="19.2" height="229.9" fill="#EEBF6D"/><rect x="622.6" y="1352.4" width="19.2" height="180.1" fill="#C1462C"/><rect x="644.45" y="1262.1" width="19.2" height="270.4" fill="#55686F"/><rect x="666.3" y="1394.4" width="19.2" height="138.1" fill="#853F82"/><rect x="706.3" y="1382.3" width="19.2" height="150.2" fill="#4EAB90"/><rect x="728.15" y="1324.3" width="19.2" height="208.2" fill="#8EB69C"/><rect x="750" y="1253.9" width="19.2" height="278.6" fill="#EDDDC3"/><rect x="771.85" y="1339.7" width="19.2" height="192.8" fill="#EEBF6D"/><rect x="793.7" y="1396" width="19.2" height="136.5" fill="#C1462C"/><rect x="815.55" y="1359.2" width="19.2" height="173.3" fill="#55686F"/><rect x="837.4" y="1476.7" width="19.2" height="55.8" fill="#853F82"/><rect x="877.4" y="1414.6" width="19.2" height="117.9" fill="#4EAB90"/><rect x="899.25" y="1292.4" width="19.2" height="240.1" fill="#8EB69C"/><rect x="921.1" y="1280.3" width="19.2" height="252.2" fill="#EDDDC3"/><rect x="942.95" y="1444.5" width="19.2" height="88" fill="#EEBF6D"/><rect x="964.8" y="1381.3" width="19.2" height="151.2" fill="#C1462C"/><rect x="986.65" y="1458.9" width="19.2" height="73.6" fill="#55686F"/><rect x="1008.5" y="1435.5" width="19.2" height="97" fill="#853F82"/><rect x="1048.5" y="1218.5" width="19.2" height="314" fill="#4EAB90"/><rect x="1070.35" y="1358.3" width="19.2" height="174.2" fill="#8EB69C"/><rect x="1092.2" y="1302.6" width="19.2" height="229.9" fill="#EDDDC3"/><rect x="1114.05" y="1261.5" width="19.2" height="271" fill="#EEBF6D"/><rect x="1135.9" y="1326.2" width="19.2" height="206.3" fill="#C1462C"/><rect x="1157.75" y="1339.3" width="19.2" height="193.2" fill="#55686F"/><rect x="1179.6" y="1379.4" width="19.2" height="153.1" fill="#853F82"/><rect x="1219.6" y="1341.3" width="19.2" height="191.2" fill="#4EAB90"/><rect x="1241.45" y="1342.2" width="19.2" height="190.3" fill="#8EB69C"/><rect x="1263.3" y="1309" width="19.2" height="223.5" fill="#EDDDC3"/><rect x="1285.15" y="1327" width="19.2" height="205.5" fill="#EEBF6D"/><rect x="1307" y="1404.4" width="19.2" height="128.1" fill="#C1462C"/><rect x="1328.85" y="1315.8" width="19.2" height="216.7" fill="#55686F"/><rect x="1350.7" y="1425.3" width="19.2" height="107.2" fill="#853F82"/><rect x="1390.7" y="1414" width="19.2" height="118.5" fill="#4EAB90"/><rect x="1412.55" y="1379.4" width="19.2" height="153.1" fill="#8EB69C"/><rect x="1434.4" y="1310.4" width="19.2" height="222.1" fill="#EDDDC3"/><rect x="1456.25" y="1376" width="19.2" height="156.5" fill="#EEBF6D"/><rect x="1478.1" y="1404.4" width="19.2" height="128.1" fill="#C1462C"/><rect x="1499.95" y="1429.2" width="19.2" height="103.3" fill="#55686F"/><rect x="1521.8" y="1429.2" width="19.2" height="103.3" fill="#853F82"/><rect x="1561.8" y="1316.2" width="19.2" height="216.3" fill="#4EAB90"/><rect x="1583.65" y="1385.3" width="19.2" height="147.2" fill="#8EB69C"/><rect x="1605.5" y="1361.7" width="19.2" height="170.8" fill="#EDDDC3"/><rect x="1627.35" y="1337" width="19.2" height="195.5" fill="#EEBF6D"/><rect x="1649.2" y="1378.4" width="19.2" height="154.1" fill="#C1462C"/><rect x="1671.05" y="1384.2" width="19.2" height="148.3" fill="#55686F"/><rect x="1692.9" y="1431.5" width="19.2" height="101" fill="#853F82"/><rect x="1732.9" y="1432.1" width="19.2" height="100.4" fill="#4EAB90"/><rect x="1754.75" y="1150.8" width="19.2" height="381.7" fill="#8EB69C"/><rect x="1776.6" y="1367.7" width="19.2" height="164.8" fill="#EDDDC3"/><rect x="1798.45" y="1381.7" width="19.2" height="150.8" fill="#EEBF6D"/><rect x="1820.3" y="1320.5" width="19.2" height="212" fill="#C1462C"/><rect x="1842.15" y="1431.5" width="19.2" height="101" fill="#55686F"/><rect x="1864" y="1401.4" width="19.2" height="131.1" fill="#853F82"/></g>
<g fill="#808080"><rect x="200.8" y="1289.5" width="3.6" height="8.4"/><rect x="194.6" y="1288.4" width="16" height="3.8" rx="1"/><rect x="222.65" y="1383.7" width="3.6" height="10.6"/><rect x="216.45" y="1382.6" width="16" height="3.8" rx="1"/><rect x="244.5" y="1347.5" width="3.6" height="6.5"/><rect x="238.3" y="1346.4" width="16" height="3.8" rx="1"/><rect x="266.35" y="1318.4" width="3.6" height="7.5"/><rect x="260.15" y="1317.3" width="16" height="3.8" rx="1"/><rect x="288.2" y="1397.4" width="3.6" height="8.6"/><rect x="282" y="1396.3" width="16" height="3.8" rx="1"/><rect x="310.05" y="1379.4" width="3.6" height="7.9"/><rect x="303.85" y="1378.3" width="16" height="3.8" rx="1"/><rect x="331.9" y="1478.5" width="3.6" height="4.3"/><rect x="325.7" y="1477.4" width="16" height="3.8" rx="1"/><rect x="371.9" y="1356.3" width="3.6" height="3.8"/><rect x="365.7" y="1355.2" width="16" height="3.8" rx="1"/><rect x="393.75" y="1199.6" width="3.6" height="9.4"/><rect x="387.55" y="1198.5" width="16" height="3.8" rx="1"/><rect x="415.6" y="1332.5" width="3.6" height="5.1"/><rect x="409.4" y="1331.4" width="16" height="3.8" rx="1"/><rect x="437.45" y="1374.1" width="3.6" height="4.1"/><rect x="431.25" y="1373" width="16" height="3.8" rx="1"/><rect x="459.3" y="1379.4" width="3.6" height="8.4"/><rect x="453.1" y="1378.3" width="16" height="3.8" rx="1"/><rect x="481.15" y="1401.3" width="3.6" height="3.9"/><rect x="474.95" y="1400.2" width="16" height="3.8" rx="1"/><rect x="503" y="1488.9" width="3.6" height="3.7"/><rect x="496.8" y="1487.8" width="16" height="3.8" rx="1"/><rect x="543" y="1371.6" width="3.6" height="4.3"/><rect x="536.8" y="1370.5" width="16" height="3.8" rx="1"/><rect x="564.85" y="1310.4" width="3.6" height="11.6"/><rect x="558.65" y="1309.3" width="16" height="3.8" rx="1"/><rect x="586.7" y="1271.5" width="3.6" height="6.9"/><rect x="580.5" y="1270.4" width="16" height="3.8" rx="1"/><rect x="608.55" y="1300.2" width="3.6" height="4.2"/><rect x="602.35" y="1299.1" width="16" height="3.8" rx="1"/><rect x="630.4" y="1345.6" width="3.6" height="9.4"/><rect x="624.2" y="1344.5" width="16" height="3.8" rx="1"/><rect x="652.25" y="1259.2" width="3.6" height="4.7"/><rect x="646.05" y="1258.1" width="16" height="3.8" rx="1"/><rect x="714.1" y="1378.4" width="3.6" height="6.5"/><rect x="707.9" y="1377.3" width="16" height="3.8" rx="1"/><rect x="735.95" y="1317.4" width="3.6" height="9.5"/><rect x="729.75" y="1316.3" width="16" height="3.8" rx="1"/><rect x="757.8" y="1249.4" width="3.6" height="7.1"/><rect x="751.6" y="1248.3" width="16" height="3.8" rx="1"/><rect x="779.65" y="1337.4" width="3.6" height="4.1"/><rect x="773.45" y="1336.3" width="16" height="3.8" rx="1"/><rect x="801.5" y="1391.5" width="3.6" height="7.1"/><rect x="795.3" y="1390.4" width="16" height="3.8" rx="1"/><rect x="823.35" y="1354.4" width="3.6" height="7.4"/><rect x="817.15" y="1353.3" width="16" height="3.8" rx="1"/><rect x="845.2" y="1474.2" width="3.6" height="4.3"/><rect x="839" y="1473.1" width="16" height="3.8" rx="1"/><rect x="885.2" y="1412.6" width="3.6" height="3.8"/><rect x="879" y="1411.5" width="16" height="3.8" rx="1"/><rect x="907.05" y="1281.7" width="3.6" height="13.3"/><rect x="900.85" y="1280.6" width="16" height="3.8" rx="1"/><rect x="928.9" y="1277.4" width="3.6" height="4.7"/><rect x="922.7" y="1276.3" width="16" height="3.8" rx="1"/><rect x="950.75" y="1442.5" width="3.6" height="3.8"/><rect x="944.55" y="1441.4" width="16" height="3.8" rx="1"/><rect x="972.6" y="1379.4" width="3.6" height="3.7"/><rect x="966.4" y="1378.3" width="16" height="3.8" rx="1"/><rect x="994.45" y="1457.2" width="3.6" height="3.5"/><rect x="988.25" y="1456.1" width="16" height="3.8" rx="1"/><rect x="1056.3" y="1212.3" width="3.6" height="8.8"/><rect x="1050.1" y="1211.2" width="16" height="3.8" rx="1"/><rect x="1078.15" y="1349.5" width="3.6" height="11.4"/><rect x="1071.95" y="1348.4" width="16" height="3.8" rx="1"/><rect x="1100" y="1296.3" width="3.6" height="8.9"/><rect x="1093.8" y="1295.2" width="16" height="3.8" rx="1"/><rect x="1121.85" y="1256.3" width="3.6" height="7.8"/><rect x="1115.65" y="1255.2" width="16" height="3.8" rx="1"/><rect x="1143.7" y="1318.4" width="3.6" height="10.4"/><rect x="1137.5" y="1317.3" width="16" height="3.8" rx="1"/><rect x="1165.55" y="1330.5" width="3.6" height="11.4"/><rect x="1159.35" y="1329.4" width="16" height="3.8" rx="1"/><rect x="1187.4" y="1378.4" width="3.6" height="2.8"/><rect x="1181.2" y="1377.3" width="16" height="3.8" rx="1"/><rect x="1227.4" y="1339.3" width="3.6" height="3.8"/><rect x="1221.2" y="1338.2" width="16" height="3.8" rx="1"/><rect x="1249.25" y="1323.7" width="3.6" height="21.1"/><rect x="1243.05" y="1322.6" width="16" height="3.8" rx="1"/><rect x="1271.1" y="1305.1" width="3.6" height="6.5"/><rect x="1264.9" y="1304" width="16" height="3.8" rx="1"/><rect x="1292.95" y="1325.3" width="3.6" height="3.5"/><rect x="1286.75" y="1324.2" width="16" height="3.8" rx="1"/><rect x="1314.8" y="1399.5" width="3.6" height="7.5"/><rect x="1308.6" y="1398.4" width="16" height="3.8" rx="1"/><rect x="1336.65" y="1314.3" width="3.6" height="3.3"/><rect x="1330.45" y="1313.2" width="16" height="3.8" rx="1"/><rect x="1358.5" y="1424" width="3.6" height="3.1"/><rect x="1352.3" y="1422.9" width="16" height="3.8" rx="1"/><rect x="1398.5" y="1412.2" width="3.6" height="3.6"/><rect x="1392.3" y="1411.1" width="16" height="3.8" rx="1"/><rect x="1420.35" y="1372.6" width="3.6" height="9.4"/><rect x="1414.15" y="1371.5" width="16" height="3.8" rx="1"/><rect x="1442.2" y="1305.5" width="3.6" height="7.5"/><rect x="1436" y="1304.4" width="16" height="3.8" rx="1"/><rect x="1464.05" y="1374.1" width="3.6" height="3.7"/><rect x="1457.85" y="1373" width="16" height="3.8" rx="1"/><rect x="1485.9" y="1398.6" width="3.6" height="8.4"/><rect x="1479.7" y="1397.5" width="16" height="3.8" rx="1"/><rect x="1507.75" y="1427.9" width="3.6" height="3.1"/><rect x="1501.55" y="1426.8" width="16" height="3.8" rx="1"/><rect x="1529.6" y="1427.3" width="3.6" height="3.7"/><rect x="1523.4" y="1426.2" width="16" height="3.8" rx="1"/><rect x="1569.6" y="1312.2" width="3.6" height="6.6"/><rect x="1563.4" y="1311.1" width="16" height="3.8" rx="1"/><rect x="1591.45" y="1383.1" width="3.6" height="4"/><rect x="1585.25" y="1382" width="16" height="3.8" rx="1"/><rect x="1613.3" y="1358.4" width="3.6" height="5.1"/><rect x="1607.1" y="1357.3" width="16" height="3.8" rx="1"/><rect x="1635.15" y="1334.3" width="3.6" height="4.5"/><rect x="1628.95" y="1333.2" width="16" height="3.8" rx="1"/><rect x="1657" y="1371.3" width="3.6" height="9.7"/><rect x="1650.8" y="1370.2" width="16" height="3.8" rx="1"/><rect x="1678.85" y="1382" width="3.6" height="4"/><rect x="1672.65" y="1380.9" width="16" height="3.8" rx="1"/><rect x="1700.7" y="1429.3" width="3.6" height="4"/><rect x="1694.5" y="1428.2" width="16" height="3.8" rx="1"/><rect x="1740.7" y="1430.3" width="3.6" height="3.6"/><rect x="1734.5" y="1429.2" width="16" height="3.8" rx="1"/><rect x="1762.55" y="1125.4" width="3.6" height="28"/><rect x="1756.35" y="1124.3" width="16" height="3.8" rx="1"/><rect x="1784.4" y="1363.3" width="3.6" height="7"/><rect x="1778.2" y="1362.2" width="16" height="3.8" rx="1"/><rect x="1806.25" y="1379.4" width="3.6" height="4.1"/><rect x="1800.05" y="1378.3" width="16" height="3.8" rx="1"/><rect x="1828.1" y="1311.6" width="3.6" height="11.5"/><rect x="1821.9" y="1310.5" width="16" height="3.8" rx="1"/><rect x="1849.95" y="1429.3" width="3.6" height="4"/><rect x="1843.75" y="1428.2" width="16" height="3.8" rx="1"/><rect x="1871.8" y="1399.2" width="3.6" height="4"/><rect x="1865.6" y="1398.1" width="16" height="3.8" rx="1"/></g>
<g font-family='"Liberation Serif","Times New Roman",serif' font-weight="bold" font-size="30.67" text-anchor="middle" fill="#000"><text x="202.6" y="1281">a</text><text x="224.45" y="1375.2">d</text><text x="246.3" y="1339">bc</text><text x="268.15" y="1309.9">ab</text><text x="290" y="1388.9">d</text><text x="311.85" y="1370.9">cd</text><text x="333.7" y="1470">e</text><text x="373.7" y="1347.8">bc</text><text x="395.55" y="1191.1">a</text><text x="417.4" y="1324">b</text><text x="439.25" y="1365.6">cd</text><text x="461.1" y="1370.9">cd</text><text x="482.95" y="1392.8">d</text><text x="504.8" y="1480.4">e</text><text x="544.8" y="1363.1">ef</text><text x="566.65" y="1301.9">cd</text><text x="588.5" y="1263">ab</text><text x="610.35" y="1291.7">bc</text><text x="632.2" y="1337.1">de</text><text x="654.05" y="1250.7">a</text><text x="675.9" y="1386.2">f</text><text x="715.9" y="1369.9">de</text><text x="737.75" y="1308.9">b</text><text x="759.6" y="1240.9">a</text><text x="781.45" y="1328.9">bc</text><text x="803.3" y="1383">e</text><text x="825.15" y="1345.9">cd</text><text x="847" y="1465.7">f</text><text x="887" y="1404.1">bc</text><text x="908.85" y="1273.2">a</text><text x="930.7" y="1268.9">a</text><text x="952.55" y="1434">cd</text><text x="974.4" y="1370.9">b</text><text x="996.25" y="1448.7">d</text><text x="1018.1" y="1427.3">cd</text><text x="1058.1" y="1203.8">a</text><text x="1079.95" y="1341">de</text><text x="1101.8" y="1287.8">c</text><text x="1123.65" y="1247.8">b</text><text x="1145.5" y="1309.9">cd</text><text x="1167.35" y="1322">d</text><text x="1189.2" y="1369.9">e</text><text x="1229.2" y="1330.8">a</text><text x="1251.05" y="1315.2">a</text><text x="1272.9" y="1296.6">a</text><text x="1294.75" y="1316.8">a</text><text x="1316.6" y="1391">b</text><text x="1338.45" y="1305.8">a</text><text x="1360.3" y="1415.5">b</text><text x="1400.3" y="1403.7">c</text><text x="1422.15" y="1364.1">b</text><text x="1444" y="1297">a</text><text x="1465.85" y="1365.6">b</text><text x="1487.7" y="1390.1">bc</text><text x="1509.55" y="1419.4">c</text><text x="1531.4" y="1418.8">c</text><text x="1571.4" y="1303.7">a</text><text x="1593.25" y="1374.6">c</text><text x="1615.1" y="1349.9">bc</text><text x="1636.95" y="1325.8">ab</text><text x="1658.8" y="1362.8">c</text><text x="1680.65" y="1373.5">c</text><text x="1702.5" y="1420.8">d</text><text x="1742.5" y="1421.8">d</text><text x="1764.35" y="1116.9">a</text><text x="1786.2" y="1354.8">c</text><text x="1808.05" y="1370.9">c</text><text x="1829.9" y="1303.1">b</text><text x="1851.75" y="1420.8">d</text><text x="1873.6" y="1390.7">cd</text></g>
<rect x="183.5" y="1077.5" width="1710" height="455" fill="none" stroke="#000" stroke-width="7"/>
<polygon points="1893.6,1073.9 1897.2,1073.9 1897.2,1077.5" fill="#fff"/>
<g fill="#000"><rect x="186" y="1427.5" width="10" height="7"/><rect x="186" y="1326" width="10" height="7"/><rect x="186" y="1224.5" width="10" height="7"/><rect x="186" y="1123" width="10" height="7"/><rect x="186" y="1478.35" width="3.2" height="6.8"/><rect x="186" y="1376.85" width="3.2" height="6.8"/><rect x="186" y="1275.35" width="3.2" height="6.8"/><rect x="186" y="1173.85" width="3.2" height="6.8"/></g>
<g font-family='"Liberation Serif","Times New Roman",serif' font-weight="bold" font-size="66.67" text-anchor="end" fill="#000"><text transform="translate(168.1,1552.7) scale(1,1.068)">0</text><text transform="translate(168.1,1451.2) scale(1,1.068)">20</text><text transform="translate(168.1,1349.7) scale(1,1.068)">40</text><text transform="translate(168.1,1248.2) scale(1,1.068)">60</text><text transform="translate(168.1,1146.7) scale(1,1.068)">80</text></g>
<g font-family='"Liberation Serif","Times New Roman",serif' font-weight="bold" font-size="59" text-anchor="middle" fill="#000"><text x="268.5" y="1600.8">Cf</text><text x="439.5" y="1600.8">Ec</text><text x="610.5" y="1600.8">Sd</text><text x="781.5" y="1600.8">Vn</text><text x="952.5" y="1600.8">Rh</text><text x="1123.5" y="1600.8">Ea</text><text x="1294.5" y="1600.8">Cm</text><text x="1465.5" y="1600.8">la</text><text x="1636.5" y="1600.8">Av</text><text x="1807.5" y="1600.8">Ai</text></g>
<text transform="translate(49.3,1300.7) rotate(-90)" font-family='"Liberation Sans",Arial,sans-serif' font-weight="bold" font-size="49.6" text-anchor="middle" fill="#000">LDMC(%)</text>
<g shape-rendering="auto"><rect x="193" y="2044.9" width="19.2" height="22.6" fill="#4EAB90"/><rect x="214.85" y="1991.6" width="19.2" height="75.9" fill="#8EB69C"/><rect x="236.7" y="2021.3" width="19.2" height="46.2" fill="#EDDDC3"/><rect x="258.55" y="2034.1" width="19.2" height="33.4" fill="#EEBF6D"/><rect x="280.4" y="1962.2" width="19.2" height="105.3" fill="#C1462C"/><rect x="302.25" y="1995.5" width="19.2" height="72" fill="#55686F"/><rect x="324.1" y="1904.2" width="19.2" height="163.3" fill="#853F82"/><rect x="364.1" y="2005.2" width="19.2" height="62.3" fill="#4EAB90"/><rect x="385.95" y="1969.3" width="19.2" height="98.2" fill="#8EB69C"/><rect x="407.8" y="1992.9" width="19.2" height="74.6" fill="#EDDDC3"/><rect x="429.65" y="2003.7" width="19.2" height="63.8" fill="#EEBF6D"/><rect x="451.5" y="2000.9" width="19.2" height="66.6" fill="#C1462C"/><rect x="473.35" y="1999.8" width="19.2" height="67.7" fill="#55686F"/><rect x="495.2" y="1684.5" width="19.2" height="383" fill="#853F82"/><rect x="535.2" y="2002.1" width="19.2" height="65.4" fill="#4EAB90"/><rect x="557.05" y="2027.1" width="19.2" height="40.4" fill="#8EB69C"/><rect x="578.9" y="2026.1" width="19.2" height="41.4" fill="#EDDDC3"/><rect x="600.75" y="2003.3" width="19.2" height="64.2" fill="#EEBF6D"/><rect x="622.6" y="2021.3" width="19.2" height="46.2" fill="#C1462C"/><rect x="644.45" y="1983.1" width="19.2" height="84.4" fill="#55686F"/><rect x="666.3" y="1991.4" width="19.2" height="76.1" fill="#853F82"/><rect x="706.3" y="2014.4" width="19.2" height="53.1" fill="#4EAB90"/><rect x="750" y="2000.7" width="19.2" height="66.8" fill="#EDDDC3"/><rect x="771.85" y="2009.9" width="19.2" height="57.6" fill="#EEBF6D"/><rect x="793.7" y="1964.2" width="19.2" height="103.3" fill="#C1462C"/><rect x="815.55" y="1963.6" width="19.2" height="103.9" fill="#55686F"/><rect x="837.4" y="1902.6" width="19.2" height="164.9" fill="#853F82"/><rect x="877.4" y="2002.1" width="19.2" height="65.4" fill="#4EAB90"/><rect x="899.25" y="1909.5" width="19.2" height="158" fill="#8EB69C"/><rect x="921.1" y="2021.3" width="19.2" height="46.2" fill="#EDDDC3"/><rect x="942.95" y="1996.2" width="19.2" height="71.3" fill="#EEBF6D"/><rect x="964.8" y="1983.1" width="19.2" height="84.4" fill="#C1462C"/><rect x="986.65" y="1982.8" width="19.2" height="84.7" fill="#55686F"/><rect x="1008.5" y="1927.4" width="19.2" height="140.1" fill="#853F82"/><rect x="1048.5" y="2057.4" width="19.2" height="10.1" fill="#4EAB90"/><rect x="1070.35" y="1976.3" width="19.2" height="91.2" fill="#8EB69C"/><rect x="1092.2" y="2021.3" width="19.2" height="46.2" fill="#EDDDC3"/><rect x="1114.05" y="2045.7" width="19.2" height="21.8" fill="#EEBF6D"/><rect x="1135.9" y="1959.3" width="19.2" height="108.2" fill="#C1462C"/><rect x="1157.75" y="1988.4" width="19.2" height="79.1" fill="#55686F"/><rect x="1179.6" y="1878.2" width="19.2" height="189.3" fill="#853F82"/><rect x="1219.6" y="2002.4" width="19.2" height="65.1" fill="#4EAB90"/><rect x="1241.45" y="1909.5" width="19.2" height="158" fill="#8EB69C"/><rect x="1263.3" y="1983.8" width="19.2" height="83.7" fill="#EDDDC3"/><rect x="1285.15" y="1996.1" width="19.2" height="71.4" fill="#EEBF6D"/><rect x="1307" y="1876.7" width="19.2" height="190.8" fill="#C1462C"/><rect x="1328.85" y="1983.4" width="19.2" height="84.1" fill="#55686F"/><rect x="1350.7" y="1800.5" width="19.2" height="267" fill="#853F82"/><rect x="1390.7" y="2005.3" width="19.2" height="62.2" fill="#4EAB90"/><rect x="1412.55" y="2001.8" width="19.2" height="65.7" fill="#8EB69C"/><rect x="1434.4" y="2018.6" width="19.2" height="48.9" fill="#EDDDC3"/><rect x="1456.25" y="2003.4" width="19.2" height="64.1" fill="#EEBF6D"/><rect x="1478.1" y="1977.6" width="19.2" height="89.9" fill="#C1462C"/><rect x="1499.95" y="1998.5" width="19.2" height="69" fill="#55686F"/><rect x="1521.8" y="1942.4" width="19.2" height="125.1" fill="#853F82"/><rect x="1561.8" y="1981.5" width="19.2" height="86" fill="#4EAB90"/><rect x="1583.65" y="1855.4" width="19.2" height="212.1" fill="#8EB69C"/><rect x="1605.5" y="1894.1" width="19.2" height="173.4" fill="#EDDDC3"/><rect x="1627.35" y="1945.3" width="19.2" height="122.2" fill="#EEBF6D"/><rect x="1649.2" y="1907.2" width="19.2" height="160.3" fill="#C1462C"/><rect x="1671.05" y="1855.4" width="19.2" height="212.1" fill="#55686F"/><rect x="1692.9" y="1797.3" width="19.2" height="270.2" fill="#853F82"/><rect x="1732.9" y="1973.7" width="19.2" height="93.8" fill="#4EAB90"/><rect x="1754.75" y="1964.5" width="19.2" height="103" fill="#8EB69C"/><rect x="1776.6" y="2008.8" width="19.2" height="58.7" fill="#EDDDC3"/><rect x="1798.45" y="1996.7" width="19.2" height="70.8" fill="#EEBF6D"/><rect x="1820.3" y="1933.2" width="19.2" height="134.3" fill="#C1462C"/><rect x="1842.15" y="1972.7" width="19.2" height="94.8" fill="#55686F"/><rect x="1864" y="1754.3" width="19.2" height="313.2" fill="#853F82"/></g>
<g fill="#808080"><rect x="200.8" y="2042.7" width="3.6" height="4"/><rect x="194.6" y="2041.6" width="16" height="3.8" rx="1"/><rect x="222.65" y="1984.7" width="3.6" height="9.5"/><rect x="216.45" y="1983.6" width="16" height="3.8" rx="1"/><rect x="244.5" y="2019.5" width="3.6" height="3.6"/><rect x="238.3" y="2018.4" width="16" height="3.8" rx="1"/><rect x="266.35" y="2031.3" width="3.6" height="4.6"/><rect x="260.15" y="2030.2" width="16" height="3.8" rx="1"/><rect x="288.2" y="1959.5" width="3.6" height="4.5"/><rect x="282" y="1958.4" width="16" height="3.8" rx="1"/><rect x="310.05" y="1991.8" width="3.6" height="6.3"/><rect x="303.85" y="1990.7" width="16" height="3.8" rx="1"/><rect x="331.9" y="1901.6" width="3.6" height="4.4"/><rect x="325.7" y="1900.5" width="16" height="3.8" rx="1"/><rect x="371.9" y="2004" width="3.6" height="3"/><rect x="365.7" y="2002.9" width="16" height="3.8" rx="1"/><rect x="393.75" y="1965.3" width="3.6" height="6.6"/><rect x="387.55" y="1964.2" width="16" height="3.8" rx="1"/><rect x="415.6" y="1990.5" width="3.6" height="4.2"/><rect x="409.4" y="1989.4" width="16" height="3.8" rx="1"/><rect x="437.45" y="2001.9" width="3.6" height="3.6"/><rect x="431.25" y="2000.8" width="16" height="3.8" rx="1"/><rect x="459.3" y="1998.6" width="3.6" height="4.1"/><rect x="453.1" y="1997.5" width="16" height="3.8" rx="1"/><rect x="481.15" y="1998.2" width="3.6" height="3.4"/><rect x="474.95" y="1997.1" width="16" height="3.8" rx="1"/><rect x="503" y="1672.6" width="3.6" height="14.5"/><rect x="496.8" y="1671.5" width="16" height="3.8" rx="1"/><rect x="543" y="2000.2" width="3.6" height="3.7"/><rect x="536.8" y="1999.1" width="16" height="3.8" rx="1"/><rect x="564.85" y="2022.8" width="3.6" height="6.9"/><rect x="558.65" y="2021.7" width="16" height="3.8" rx="1"/><rect x="586.7" y="2023.2" width="3.6" height="4.7"/><rect x="580.5" y="2022.1" width="16" height="3.8" rx="1"/><rect x="608.55" y="2001.1" width="3.6" height="4"/><rect x="602.35" y="2000" width="16" height="3.8" rx="1"/><rect x="630.4" y="2018" width="3.6" height="5.1"/><rect x="624.2" y="2016.9" width="16" height="3.8" rx="1"/><rect x="652.25" y="1981.2" width="3.6" height="3.7"/><rect x="646.05" y="1980.1" width="16" height="3.8" rx="1"/><rect x="674.1" y="1987.5" width="3.6" height="6.5"/><rect x="667.9" y="1986.4" width="16" height="3.8" rx="1"/><rect x="714.1" y="2012.1" width="3.6" height="4.1"/><rect x="707.9" y="2011" width="16" height="3.8" rx="1"/><rect x="757.8" y="1998.4" width="3.6" height="4.1"/><rect x="751.6" y="1997.3" width="16" height="3.8" rx="1"/><rect x="779.65" y="2007.2" width="3.6" height="4.5"/><rect x="773.45" y="2006.1" width="16" height="3.8" rx="1"/><rect x="801.5" y="1961.3" width="3.6" height="4.7"/><rect x="795.3" y="1960.2" width="16" height="3.8" rx="1"/><rect x="823.35" y="1961.3" width="3.6" height="4.1"/><rect x="817.15" y="1960.2" width="16" height="3.8" rx="1"/><rect x="845.2" y="1899.5" width="3.6" height="4.9"/><rect x="839" y="1898.4" width="16" height="3.8" rx="1"/><rect x="885.2" y="2000.2" width="3.6" height="3.7"/><rect x="879" y="1999.1" width="16" height="3.8" rx="1"/><rect x="907.05" y="1898.1" width="3.6" height="14"/><rect x="900.85" y="1897" width="16" height="3.8" rx="1"/><rect x="928.9" y="2019.7" width="3.6" height="3.4"/><rect x="922.7" y="2018.6" width="16" height="3.8" rx="1"/><rect x="950.75" y="1994.3" width="3.6" height="3.7"/><rect x="944.55" y="1993.2" width="16" height="3.8" rx="1"/><rect x="972.6" y="1980.2" width="3.6" height="4.7"/><rect x="966.4" y="1979.1" width="16" height="3.8" rx="1"/><rect x="994.45" y="1981.2" width="3.6" height="3.4"/><rect x="988.25" y="1980.1" width="16" height="3.8" rx="1"/><rect x="1016.3" y="1924.1" width="3.6" height="5.1"/><rect x="1010.1" y="1923" width="16" height="3.8" rx="1"/><rect x="1056.3" y="2055.5" width="3.6" height="3.7"/><rect x="1050.1" y="2054.4" width="16" height="3.8" rx="1"/><rect x="1078.15" y="1969.5" width="3.6" height="9.4"/><rect x="1071.95" y="1968.4" width="16" height="3.8" rx="1"/><rect x="1100" y="2016.4" width="3.6" height="7.5"/><rect x="1093.8" y="2015.3" width="16" height="3.8" rx="1"/><rect x="1121.85" y="2043.2" width="3.6" height="4.3"/><rect x="1115.65" y="2042.1" width="16" height="3.8" rx="1"/><rect x="1143.7" y="1955.2" width="3.6" height="6.7"/><rect x="1137.5" y="1954.1" width="16" height="3.8" rx="1"/><rect x="1165.55" y="1982.2" width="3.6" height="8.8"/><rect x="1159.35" y="1981.1" width="16" height="3.8" rx="1"/><rect x="1187.4" y="1874.3" width="3.6" height="6.5"/><rect x="1181.2" y="1873.2" width="16" height="3.8" rx="1"/><rect x="1227.4" y="2001" width="3.6" height="3.2"/><rect x="1221.2" y="1999.9" width="16" height="3.8" rx="1"/><rect x="1249.25" y="1898.4" width="3.6" height="13.7"/><rect x="1243.05" y="1897.3" width="16" height="3.8" rx="1"/><rect x="1271.1" y="1981.3" width="3.6" height="4.3"/><rect x="1264.9" y="1980.2" width="16" height="3.8" rx="1"/><rect x="1292.95" y="1994.6" width="3.6" height="3.3"/><rect x="1286.75" y="1993.5" width="16" height="3.8" rx="1"/><rect x="1314.8" y="1867.5" width="3.6" height="11.8"/><rect x="1308.6" y="1866.4" width="16" height="3.8" rx="1"/><rect x="1336.65" y="1981.3" width="3.6" height="3.9"/><rect x="1330.45" y="1980.2" width="16" height="3.8" rx="1"/><rect x="1358.5" y="1795.6" width="3.6" height="7.5"/><rect x="1352.3" y="1794.5" width="16" height="3.8" rx="1"/><rect x="1398.5" y="2004.4" width="3.6" height="2.7"/><rect x="1392.3" y="2003.3" width="16" height="3.8" rx="1"/><rect x="1420.35" y="1999.5" width="3.6" height="4.1"/><rect x="1414.15" y="1998.4" width="16" height="3.8" rx="1"/><rect x="1442.2" y="2016.5" width="3.6" height="3.9"/><rect x="1436" y="2015.4" width="16" height="3.8" rx="1"/><rect x="1464.05" y="2001.4" width="3.6" height="3.8"/><rect x="1457.85" y="2000.3" width="16" height="3.8" rx="1"/><rect x="1485.9" y="1972.7" width="3.6" height="7.5"/><rect x="1479.7" y="1971.6" width="16" height="3.8" rx="1"/><rect x="1507.75" y="1997.1" width="3.6" height="3.2"/><rect x="1501.55" y="1996" width="16" height="3.8" rx="1"/><rect x="1529.6" y="1935.6" width="3.6" height="9.4"/><rect x="1523.4" y="1934.5" width="16" height="3.8" rx="1"/><rect x="1569.6" y="1975.6" width="3.6" height="8.5"/><rect x="1563.4" y="1974.5" width="16" height="3.8" rx="1"/><rect x="1591.45" y="1851.1" width="3.6" height="6.9"/><rect x="1585.25" y="1850" width="16" height="3.8" rx="1"/><rect x="1613.3" y="1888.3" width="3.6" height="8.4"/><rect x="1607.1" y="1887.2" width="16" height="3.8" rx="1"/><rect x="1635.15" y="1937.5" width="3.6" height="10.4"/><rect x="1628.95" y="1936.4" width="16" height="3.8" rx="1"/><rect x="1657" y="1898.4" width="3.6" height="11.4"/><rect x="1650.8" y="1897.3" width="16" height="3.8" rx="1"/><rect x="1678.85" y="1849.2" width="3.6" height="8.8"/><rect x="1672.65" y="1848.1" width="16" height="3.8" rx="1"/><rect x="1700.7" y="1793.3" width="3.6" height="6.6"/><rect x="1694.5" y="1792.2" width="16" height="3.8" rx="1"/><rect x="1740.7" y="1972.1" width="3.6" height="3.4"/><rect x="1734.5" y="1971" width="16" height="3.8" rx="1"/><rect x="1762.55" y="1959.4" width="3.6" height="7.7"/><rect x="1756.35" y="1958.3" width="16" height="3.8" rx="1"/><rect x="1784.4" y="2007.3" width="3.6" height="3.3"/><rect x="1778.2" y="2006.2" width="16" height="3.8" rx="1"/><rect x="1806.25" y="1994.8" width="3.6" height="3.7"/><rect x="1800.05" y="1993.7" width="16" height="3.8" rx="1"/><rect x="1828.1" y="1926.2" width="3.6" height="9.6"/><rect x="1821.9" y="1925.1" width="16" height="3.8" rx="1"/><rect x="1849.95" y="1971.3" width="3.6" height="3.2"/><rect x="1843.75" y="1970.2" width="16" height="3.8" rx="1"/><rect x="1871.8" y="1747.3" width="3.6" height="9.6"/><rect x="1865.6" y="1746.2" width="16" height="3.8" rx="1"/></g>
<g font-family='"Liberation Serif","Times New Roman",serif' font-weight="bold" font-size="30.67" text-anchor="middle" fill="#000"><text x="202.6" y="2034.2">g</text><text x="224.45" y="1976.2">c</text><text x="246.3" y="2011">e</text><text x="268.15" y="2022.8">f</text><text x="290" y="1951">b</text><text x="311.85" y="1983.3">d</text><text x="333.7" y="1893.1">a</text><text x="373.7" y="1995.5">g</text><text x="395.55" y="1956.8">b</text><text x="417.4" y="1982">c</text><text x="439.25" y="1993.4">f</text><text x="461.1" y="1990.1">e</text><text x="482.95" y="1989.7">d</text><text x="504.8" y="1664.1">a</text><text x="544.8" y="1991.7">c</text><text x="566.65" y="2014.3">g</text><text x="588.5" y="2014.7">f</text><text x="610.35" y="1992.6">d</text><text x="632.2" y="2009.5">e</text><text x="654.05" y="1972.7">a</text><text x="675.9" y="1979">b</text><text x="715.9" y="2003.6">f</text><text x="759.6" y="1989.9">d</text><text x="781.45" y="1998.7">e</text><text x="803.3" y="1952.8">c</text><text x="825.15" y="1952.8">b</text><text x="847" y="1891">a</text><text x="887" y="1991.7">f</text><text x="908.85" y="1889.6">a</text><text x="930.7" y="2011.2">g</text><text x="952.55" y="1985.8">e</text><text x="974.4" y="1971.7">d</text><text x="996.25" y="1972.7">c</text><text x="1018.1" y="1915.6">b</text><text x="1058.1" y="2047">g</text><text x="1079.95" y="1961">c</text><text x="1101.8" y="2007.9">e</text><text x="1123.65" y="2034.7">f</text><text x="1145.5" y="1946.7">b</text><text x="1167.35" y="1973.7">d</text><text x="1189.2" y="1865.8">a</text><text x="1229.2" y="1992.5">g</text><text x="1251.05" y="1889.9">c</text><text x="1272.9" y="1972.8">e</text><text x="1294.75" y="1986.1">f</text><text x="1316.6" y="1859">b</text><text x="1338.45" y="1972.8">d</text><text x="1360.3" y="1787.1">a</text><text x="1400.3" y="1995.9">f</text><text x="1422.15" y="1991">d</text><text x="1444" y="2008">g</text><text x="1465.85" y="1992.9">e</text><text x="1487.7" y="1964.2">b</text><text x="1509.55" y="1988.6">c</text><text x="1531.4" y="1927.1">a</text><text x="1571.4" y="1967.1">g</text><text x="1593.25" y="1842.6">b</text><text x="1615.1" y="1879.8">d</text><text x="1636.95" y="1929">f</text><text x="1658.8" y="1889.9">e</text><text x="1680.65" y="1840.7">c</text><text x="1702.5" y="1784.8">a</text><text x="1742.5" y="1963.6">e</text><text x="1764.35" y="1950.9">c</text><text x="1786.2" y="1998.8">g</text><text x="1808.05" y="1986.3">f</text><text x="1829.9" y="1917.7">b</text><text x="1851.75" y="1962.8">d</text><text x="1873.6" y="1738.8">a</text></g>
<rect x="183.5" y="1611.5" width="1710" height="456" fill="none" stroke="#000" stroke-width="7"/>
<polygon points="1893.6,1607.9 1897.2,1607.9 1897.2,1611.5" fill="#fff"/>
<g fill="#000"><rect x="186" y="1933.6" width="10" height="7"/><rect x="186" y="1803.2" width="10" height="7"/><rect x="186" y="1672.8" width="10" height="7"/><rect x="186" y="1998.9" width="3.2" height="6.8"/><rect x="186" y="1868.5" width="3.2" height="6.8"/><rect x="186" y="1738.1" width="3.2" height="6.8"/></g>
<g font-family='"Liberation Serif","Times New Roman",serif' font-weight="bold" font-size="66.67" text-anchor="end" fill="#000"><text transform="translate(168.1,2087.7) scale(1,1.068)">0</text><text transform="translate(168.1,1957.3) scale(1,1.068)">100</text><text transform="translate(168.1,1826.9) scale(1,1.068)">200</text><text transform="translate(168.1,1696.5) scale(1,1.068)">300</text></g>
<g font-family='"Liberation Serif","Times New Roman",serif' font-weight="bold" font-size="59" text-anchor="middle" fill="#000"><text x="268.5" y="2135.8">Cf</text><text x="439.5" y="2135.8">Ec</text><text x="610.5" y="2135.8">Sd</text><text x="781.5" y="2135.8">Vn</text><text x="952.5" y="2135.8">Rh</text><text x="1123.5" y="2135.8">Ea</text><text x="1294.5" y="2135.8">Cm</text><text x="1465.5" y="2135.8">la</text><text x="1636.5" y="2135.8">Av</text><text x="1807.5" y="2135.8">Ai</text></g>
<text transform="translate(42.2,1838.5) rotate(-90)" font-family='"Liberation Sans",Arial,sans-serif' font-weight="bold" font-size="49.6" text-anchor="middle" fill="#000">SLA(cm²/g)</text>
<rect x="241" y="2181" width="96" height="46.5" fill="#4EAB90"/><text x="349.1" y="2219.2" font-family='"Liberation Sans",Arial,sans-serif' font-weight="bold" font-size="42" fill="#000">DS0</text><rect x="443.5" y="2181" width="96" height="46.5" fill="#8EB69C"/><text x="551.6" y="2219.2" font-family='"Liberation Sans",Arial,sans-serif' font-weight="bold" font-size="42" fill="#000">DS10</text><rect x="669" y="2181" width="96" height="46.5" fill="#EDDDC3"/><text x="777.1" y="2219.2" font-family='"Liberation Sans",Arial,sans-serif' font-weight="bold" font-size="42" fill="#000">DS20</text><rect x="894.5" y="2181" width="96" height="46.5" fill="#EEBF6D"/><text x="1002.6" y="2219.2" font-family='"Liberation Sans",Arial,sans-serif' font-weight="bold" font-size="42" fill="#000">DS30</text><rect x="1120" y="2181" width="96" height="46.5" fill="#C1462C"/><text x="1228.1" y="2219.2" font-family='"Liberation Sans",Arial,sans-serif' font-weight="bold" font-size="42" fill="#000">DS40</text><rect x="1345.5" y="2181" width="96" height="46.5" fill="#55686F"/><text x="1453.6" y="2219.2" font-family='"Liberation Sans",Arial,sans-serif' font-weight="bold" font-size="42" fill="#000">DS50</text><rect x="1571" y="2181" width="96" height="46.5" fill="#853F82"/><text x="1679.9" y="2219.2" font-family='"Liberation Sans",Arial,sans-serif' font-weight="bold" font-size="42" fill="#000">RE10</text>
</svg>
</body></html>
